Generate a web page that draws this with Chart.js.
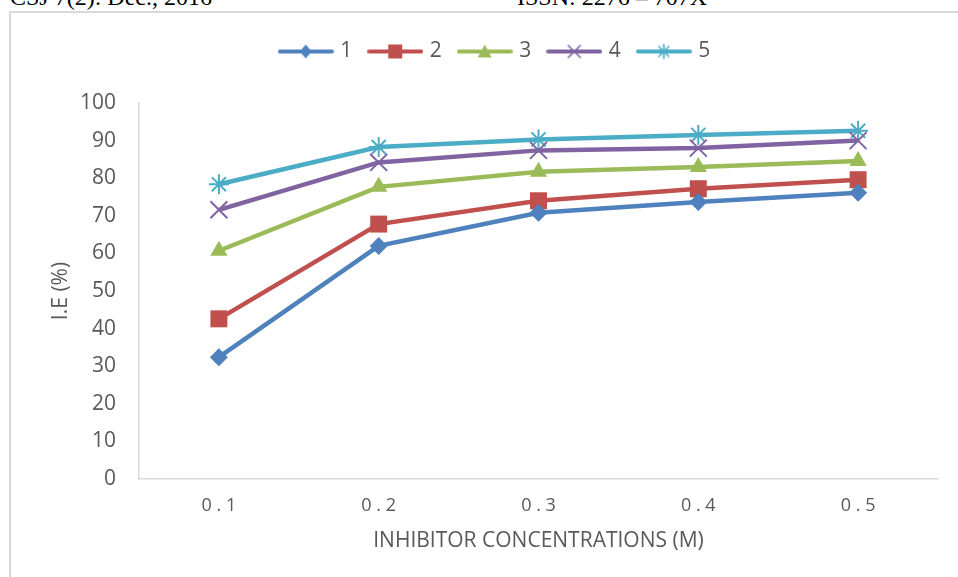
<!DOCTYPE html>
<html>
<head>
<meta charset="utf-8">
<script src="https://cdn.jsdelivr.net/npm/chart.js@4.4.0/dist/chart.umd.min.js"></script>
<style>
  html, body { margin: 0; padding: 0; background: #fff; overflow: hidden; }
  #page { position: relative; width: 958px; height: 577px; }
  .hdr { position: absolute; top: -16px; font: 24px "Liberation Serif", serif; color: #000; white-space: nowrap; }
  #frame { position: absolute; left: 9px; top: 11px; width: 1000px; height: 700px; border: 2px solid #d9d9d9; box-sizing: border-box; }
  #wrap { position: absolute; left: 0; top: 0; width: 958px; height: 577px; }
</style>
</head>
<body>
<div id="page">
  <div class="hdr" style="left:10px">CSJ 7(2): Dec., 2016</div>
  <div class="hdr" style="left:517px">ISSN: 2276 – 707X</div>
  <div id="frame"></div>
  <div id="wrap"><canvas id="ieChart" width="958" height="577"></canvas></div>
</div>
<script>
// Concentrações (eixo x) e eficiências de inibição (%)
const concentrations = ['0.1', '0.2', '0.3', '0.4', '0.5'];
const seriesNames = ['1', '2', '3', '4', '5'];
const ie1 = [32.4, 62.0, 70.8, 73.7, 76.1];
const ie2 = [42.6, 67.8, 74.0, 77.2, 79.6];
const ie3 = [60.7, 77.7, 81.7, 83.0, 84.6];
const ie4 = [71.6, 84.2, 87.4, 88.0, 90.0];
const ie5 = [78.4, 88.3, 90.3, 91.5, 92.6];
const yTicks = [0, 10, 20, 30, 40, 50, 60, 70, 80, 90, 100];

const colors = ['#4f81bd', '#c0504d', '#9bbb59', '#8064a2', '#4bacc6'];
const markers = ['rectRot', 'rect', 'triangle', 'crossRot', 'star'];
const radii = [9, 12, 10, 12, 10];

// Desenha o símbolo da legenda (linha + marcador) num pequeno canvas
function legendIcon(color, marker) {
  const c = document.createElement('canvas');
  c.width = 56; c.height = 20;
  const g = c.getContext('2d');
  g.strokeStyle = color; g.fillStyle = color;
  g.lineWidth = 4; g.lineCap = 'round';
  g.beginPath(); g.moveTo(2, 10); g.lineTo(54, 10); g.stroke();
  g.lineWidth = 1.6;
  const cx = 28, cy = 10;
  g.beginPath();
  if (marker === 'rectRot') {
    g.moveTo(cx, cy - 7); g.lineTo(cx + 6, cy); g.lineTo(cx, cy + 7); g.lineTo(cx - 6, cy); g.closePath(); g.fill();
  } else if (marker === 'rect') {
    g.rect(cx - 7, cy - 7, 14, 14); g.fill();
  } else if (marker === 'triangle') {
    g.moveTo(cx, cy - 7); g.lineTo(cx + 7, cy + 6); g.lineTo(cx - 7, cy + 6); g.closePath(); g.fill();
  } else if (marker === 'crossRot') {
    g.moveTo(cx - 6, cy - 6); g.lineTo(cx + 6, cy + 6); g.moveTo(cx + 6, cy - 6); g.lineTo(cx - 6, cy + 6); g.stroke();
  } else {
    g.moveTo(cx, cy - 7); g.lineTo(cx, cy + 7);
    g.moveTo(cx - 5, cy - 5); g.lineTo(cx + 5, cy + 5); g.moveTo(cx + 5, cy - 5); g.lineTo(cx - 5, cy + 5); g.stroke();
  }
  return c;
}

const allSeries = [ie1, ie2, ie3, ie4, ie5];
const datasets = allSeries.map((vals, i) => ({
  label: seriesNames[i],
  data: vals,
  borderColor: colors[i],
  backgroundColor: colors[i],
  borderWidth: 4.5,
  pointStyle: markers[i],
  pointRadius: radii[i],
  pointHoverRadius: radii[i],
  pointBorderWidth: (markers[i] === 'crossRot' || markers[i] === 'star') ? 2 : 0,
  pointBorderColor: colors[i],
  pointBackgroundColor: colors[i],
  tension: 0
}));

// Espaço extra abaixo da legenda e pequeno deslocamento para a direita
const legendSpace = {
  id: 'legendSpace',
  beforeInit(chart) {
    const fit = chart.legend.fit;
    chart.legend.fit = function () {
      fit.bind(chart.legend)();
      this.height += 31;
    };
  },
  afterLayout(chart) {
    chart.legend.left += 7;
    chart.legend.right += 7;
  }
};

const ctx = document.getElementById('ieChart').getContext('2d');
new Chart(ctx, {
  type: 'line',
  data: { labels: concentrations, datasets: datasets },
  plugins: [legendSpace],
  options: {
    responsive: false,
    animation: false,
    layout: { padding: { left: 40, right: 20, top: 22, bottom: 0 } },
    plugins: {
      tooltip: { enabled: false },
      legend: {
        position: 'top',
        labels: {
          usePointStyle: true,
          pointStyleWidth: 48,
          padding: 19,
          color: '#595959',
          font: { family: 'Open Sans', size: 21 },
          generateLabels(chart) {
            return chart.data.datasets.map((ds, i) => ({
              text: ds.label,
              fillStyle: colors[i],
              strokeStyle: colors[i],
              fontColor: '#595959',
              lineWidth: 0,
              pointStyle: legendIcon(colors[i], markers[i]),
              datasetIndex: i,
              hidden: false
            }));
          }
        }
      }
    },
    scales: {
      x: {
        offset: true,
        grid: { display: false, drawTicks: false },
        border: { color: '#d9d9d9', width: 1.5 },
        ticks: {
          color: '#595959',
          padding: 16,
          font: { family: 'Open Sans', size: 18 },
          callback: function (v) { return this.getLabelForValue(v).split('').join(' '); }
        },
        title: {
          display: true,
          text: 'INHIBITOR CONCENTRATIONS (M)',
          color: '#595959',
          font: { family: 'Open Sans', size: 21 },
          padding: { top: 0, bottom: 23 }
        },
        afterFit(scale) { scale.height = 98; }
      },
      y: {
        min: 0,
        max: 100,
        grid: { display: false, drawTicks: false },
        border: { color: '#d9d9d9', width: 1.5 },
        afterBuildTicks(scale) { scale.ticks = yTicks.map(v => ({ value: v })); },
        ticks: {
          color: '#595959',
          padding: 23,
          font: { family: 'Open Sans', size: 21 }
        },
        title: {
          display: true,
          text: 'I.E (%)',
          color: '#595959',
          font: { family: 'Open Sans', size: 21 },
          padding: { top: 8, bottom: 0 }
        },
        afterFit(scale) { scale.width = 99; }
      }
    }
  }
});
</script>
</body>
</html>
